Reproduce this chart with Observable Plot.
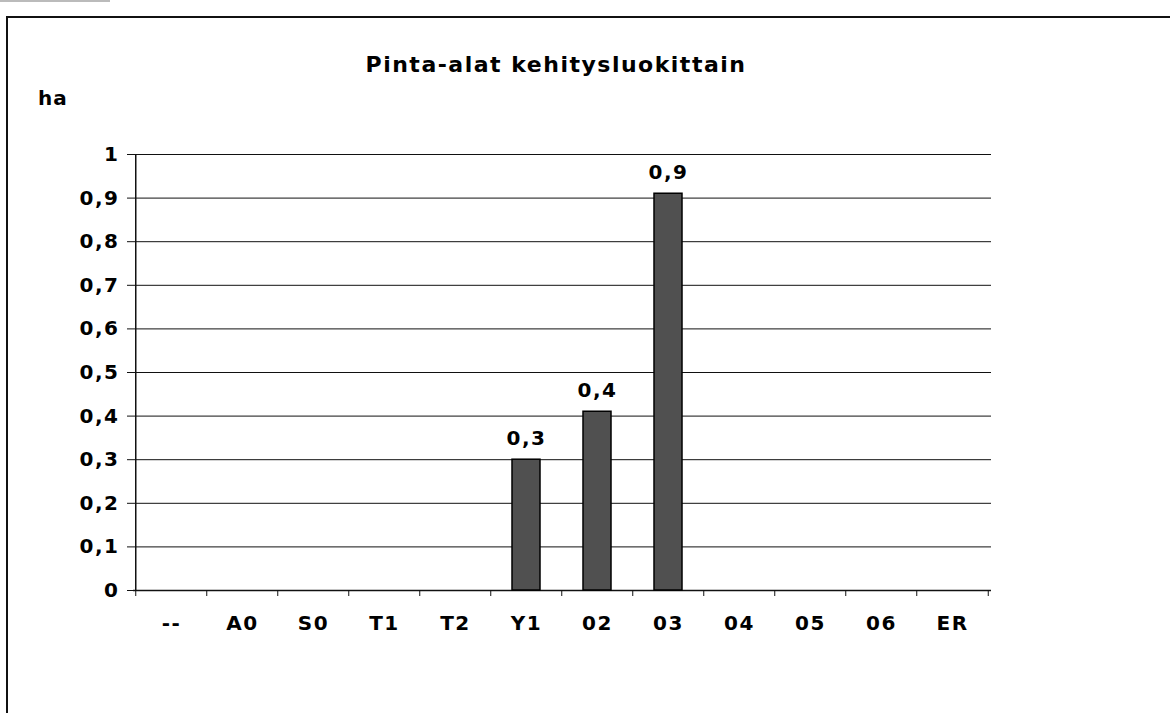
<!DOCTYPE html>
<html>
<head>
<meta charset="utf-8">
<script src="https://cdn.jsdelivr.net/npm/d3@7"></script>
<script src="https://cdn.jsdelivr.net/npm/@observablehq/plot@0.6"></script>
<style>
  html, body { margin: 0; padding: 0; background: #fff; }
  #wrap { position: relative; width: 1170px; height: 713px; overflow: hidden; font-family: "DejaVu Sans", Verdana, sans-serif; font-weight: bold; color: #000; }
  #wrap svg { position: absolute; left: 0; top: 0; }
  .border { position: absolute; left: 6px; top: 16px; width: 1170px; height: 713px; border-left: 2px solid #111; border-top: 2px solid #111; }
  .scrap { position: absolute; left: 0; top: 0; width: 110px; height: 0; border-top: 2px solid #bbb; }
  .title { position: absolute; left: 0; width: 1112px; top: 52px; text-align: center; font-size: 22px; letter-spacing: 1.5px; }
  .unit { position: absolute; left: 38px; top: 86px; font-size: 20px; letter-spacing: 1px; }
</style>
</head>
<body>
<div id="wrap">
  <div class="scrap"></div>
  <div class="border"></div>
  <div class="title">Pinta-alat kehitysluokittain</div>
  <div class="unit">ha</div>
</div>
<script>
const categories = ["--", "A0", "S0", "T1", "T2", "Y1", "02", "03", "04", "05", "06", "ER"];
const values = [0, 0, 0, 0, 0, 0.3, 0.41, 0.91, 0, 0, 0, 0];
const yTicks = [0, 0.1, 0.2, 0.3, 0.4, 0.5, 0.6, 0.7, 0.8, 0.9, 1];

const data = categories.map((c, i) => ({cat: c, value: values[i]}));
const nonZero = data.filter(d => d.value > 0);
const fmt = d => (d === 0 || d === 1) ? String(d) : d.toFixed(1).replace(".", ",");

const W = 1170, H = 713, mL = 133, mR = 179, mT = 154, mB = 123;
const step = (W - mL - mR) / categories.length;

const chart = Plot.plot({
  width: W,
  height: H,
  marginLeft: mL,
  marginRight: mR,
  marginTop: mT,
  marginBottom: mB,
  style: {fontFamily: "DejaVu Sans, Verdana, sans-serif", fontWeight: "bold", fontSize: "20px", letterSpacing: "1.5px", color: "#000", background: "transparent"},
  x: {domain: categories, paddingInner: 0.6, paddingOuter: 0.3, label: null},
  y: {domain: [0, 1], label: null},
  marks: [
    Plot.gridY(yTicks, {stroke: "#111", strokeOpacity: 1, strokeWidth: 1}),
    Plot.gridX([categories[0]], {dx: -step / 2, stroke: "#111", strokeOpacity: 1, strokeWidth: 1.5}),
    Plot.ruleY([0], {stroke: "#111", strokeWidth: 1.5}),
    Plot.axisY({ticks: yTicks, tickFormat: fmt, tickSize: 6, tickPadding: 8, fontSize: 20, fontWeight: "bold", fill: "#000", stroke: "#111"}),
    Plot.axisX({ticks: categories, tickFormat: () => "", tickSize: 6, dx: -step / 2, stroke: "#111"}),
    Plot.axisX({ticks: [categories[categories.length - 1]], tickFormat: () => "", tickSize: 6, dx: step / 2, stroke: "#111"}),
    Plot.axisX({ticks: categories, tickSize: 0, tickPadding: 25, fontSize: 20, fontWeight: "bold", fill: "#000"}),
    Plot.barY(nonZero, {x: "cat", y: "value", fill: "#505050", stroke: "#000", strokeWidth: 1.5}),
    Plot.text(nonZero, {x: "cat", y: "value", text: d => d.value.toFixed(1).replace(".", ","), dy: -21, fontSize: 20, fontWeight: "bold", fill: "#000"})
  ]
});
document.getElementById("wrap").prepend(chart);
</script>
</body>
</html>
